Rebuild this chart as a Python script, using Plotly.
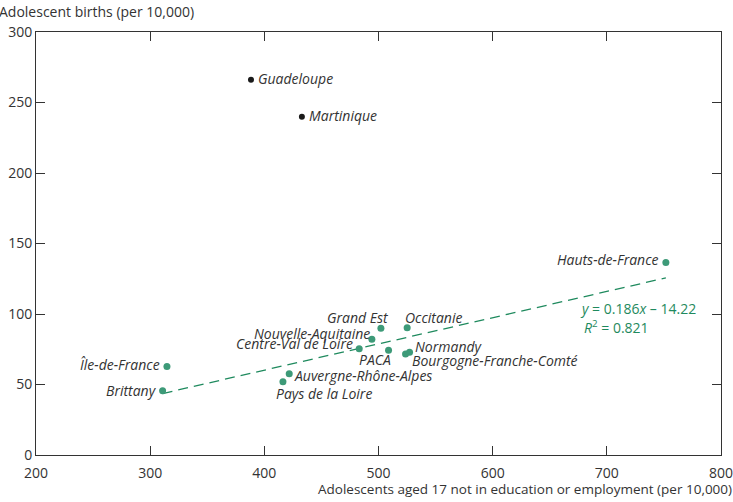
import plotly.graph_objects as go

# Data
regions = ["Île-de-France", "Brittany", "Pays de la Loire", "Auvergne-Rhône-Alpes",
           "Centre-Val de Loire", "Nouvelle-Aquitaine", "Grand Est", "PACA",
           "Bourgogne-Franche-Comté", "Occitanie", "Normandy", "Hauts-de-France"]
not_in_educ = [314.7, 310.9, 416.3, 421.8, 483.1, 494.2, 502.1, 508.8, 523.7, 525.1, 527.2, 751.7]
births = [62.7, 45.6, 52.0, 57.7, 75.4, 82.1, 89.9, 74.3, 71.7, 90.3, 72.9, 136.5]

overseas = ["Guadeloupe", "Martinique"]
overseas_x = [388.3, 432.9]
overseas_y = [266.1, 239.9]

slope = 0.186
intercept = -14.22
r2 = 0.821

# label placement: (xanchor, yanchor, xshift, yshift)
label_pos = {
    "Île-de-France": ("right", "middle", -5, 2),
    "Brittany": ("right", "middle", -4, 0),
    "Pays de la Loire": ("left", "top", -9, 0),
    "Auvergne-Rhône-Alpes": ("left", "middle", 3, -2),
    "Centre-Val de Loire": ("right", "middle", -4, 5),
    "Nouvelle-Aquitaine": ("right", "middle", 0, 6),
    "Grand Est": ("right", "bottom", 10, -1),
    "PACA": ("right", "top", 4, 2),
    "Bourgogne-Franche-Comté": ("left", "top", 4, 5),
    "Occitanie": ("left", "bottom", -4, -1),
    "Normandy": ("left", "bottom", 3, -6),
    "Hauts-de-France": ("right", "middle", -5, 3),
}

FONT = "Open Sans"
FS = 14
green = "#3d9a78"
line_green = "#1f8a5e"
text_col = "#333333"

fig = go.Figure()

x0, x1 = min(not_in_educ), max(not_in_educ)
fig.add_trace(go.Scatter(
    x=[x0, x1], y=[slope * x0 + intercept, slope * x1 + intercept],
    mode="lines", line=dict(color=line_green, width=1.3, dash="10px,6px"),
    hoverinfo="skip", showlegend=False))

fig.add_trace(go.Scatter(
    x=not_in_educ, y=births, mode="markers",
    marker=dict(color=green, size=7), showlegend=False))

fig.add_trace(go.Scatter(
    x=overseas_x, y=overseas_y, mode="markers",
    marker=dict(color="#1a1a1a", size=6), showlegend=False))

anns = []
for name, xv, yv in zip(regions, not_in_educ, births):
    xa, ya, xs, ys = label_pos[name]
    anns.append(dict(x=xv, y=yv, text=f"<i>{name}</i>", showarrow=False,
                     xanchor=xa, yanchor=ya, xshift=xs, yshift=ys,
                     font=dict(family=FONT, size=FS, color=text_col)))
for name, xv, yv in zip(overseas, overseas_x, overseas_y):
    anns.append(dict(x=xv, y=yv, text=f"<i>{name}</i>", showarrow=False,
                     xanchor="left", yanchor="middle", xshift=5, yshift=1,
                     font=dict(family=FONT, size=FS, color=text_col)))

anns.append(dict(x=674.8, y=103.6, text=f"<i>y</i> = {slope}<i>x</i> – {abs(intercept):.2f}",
                 showarrow=False, xanchor="left", yanchor="middle",
                 font=dict(family=FONT, size=FS, color=line_green)))
anns.append(dict(x=678.5, y=90.8, text=f"<i>R</i><sup>2</sup> = {r2}",
                 showarrow=False, xanchor="left", yanchor="middle",
                 font=dict(family=FONT, size=FS, color=line_green)))

anns.append(dict(x=0, y=1, xref="paper", yref="paper", xanchor="left", yanchor="bottom",
                 xshift=-39, yshift=9, showarrow=False,
                 text="Adolescent births (per 10,000)",
                 font=dict(family=FONT, size=FS, color=text_col)))
anns.append(dict(x=1, y=0, xref="paper", yref="paper", xanchor="right", yanchor="top",
                 xshift=13, yshift=-23, showarrow=False,
                 text="Adolescents aged 17 not in education or employment (per 10,000)",
                 font=dict(family=FONT, size=13.5, color=text_col)))

axis_common = dict(showgrid=False, zeroline=False, showline=True, linecolor="#333333",
                   linewidth=1, mirror="ticks", ticks="inside", ticklen=9,
                   tickcolor="#333333", tickwidth=1, automargin=False,
                   ticklabeloverflow="allow",
                   tickfont=dict(family=FONT, size=FS, color=text_col))

fig.update_layout(
    width=733, height=502,
    margin=dict(l=36, r=12, t=32, b=47),
    plot_bgcolor="white", paper_bgcolor="white",
    xaxis=dict(range=[200, 800], dtick=100, ticklabelstandoff=5, **axis_common),
    yaxis=dict(range=[0, 300], dtick=50, **axis_common),
    annotations=anns,
    showlegend=False,
)

fig.write_html("out.html", config={"displayModeBar": False},
               post_script="document.body.style.margin='0';document.body.style.overflow='hidden';")
